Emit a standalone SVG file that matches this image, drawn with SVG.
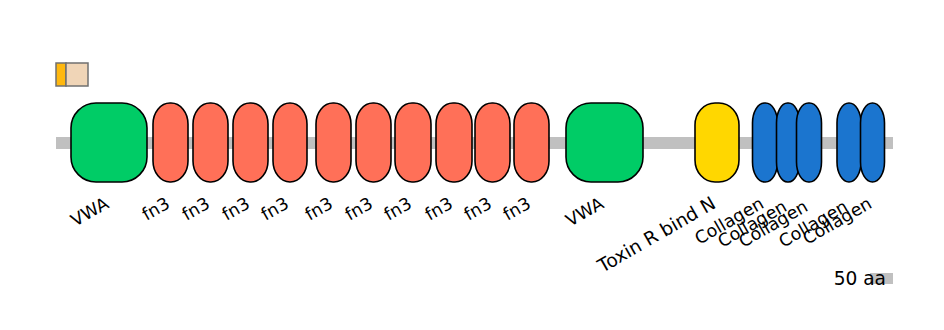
<svg xmlns="http://www.w3.org/2000/svg" width="944" height="330" viewBox="0 0 944 330">
<style>
.dom{stroke:#000;stroke-width:1.6}
.vwa{fill:#00cc66}
.fn3{fill:#ff7058}
.tox{fill:#ffd700}
.col{fill:#1b75cf}
.lbl{font-family:"DejaVu Sans",sans-serif;font-size:17.4px;fill:#000;text-anchor:end}
</style>
<rect width="944" height="330" fill="#fff"/>
<g id="legend">
<rect x="56" y="63" width="10" height="23" fill="#ffb80f" stroke="#707070" stroke-width="1.5"/>
<rect x="66" y="63" width="22" height="23" fill="#f0d5b7" stroke="#707070" stroke-width="1.5"/>
</g>
<g id="backbone">
<rect x="56" y="137" width="837" height="12" fill="#c0c0c0"/>
</g>
<g id="vwa1"><rect class="dom vwa" x="71" y="103" width="76" height="79" rx="25" ry="25"/><text class="lbl" transform="translate(110,207) rotate(-30)">VWA</text></g>
<g id="fn3_1"><rect class="dom fn3" x="153" y="103" width="35" height="79" rx="17" ry="21"/><text class="lbl" transform="translate(171,207) rotate(-30)">fn3</text></g>
<g id="fn3_2"><rect class="dom fn3" x="193" y="103" width="35" height="79" rx="17" ry="21"/><text class="lbl" transform="translate(211,207) rotate(-30)">fn3</text></g>
<g id="fn3_3"><rect class="dom fn3" x="233" y="103" width="35" height="79" rx="17" ry="21"/><text class="lbl" transform="translate(251,207) rotate(-30)">fn3</text></g>
<g id="fn3_4"><rect class="dom fn3" x="273" y="103" width="34" height="79" rx="17" ry="21"/><text class="lbl" transform="translate(290,207) rotate(-30)">fn3</text></g>
<g id="fn3_5"><rect class="dom fn3" x="316" y="103" width="35" height="79" rx="17" ry="21"/><text class="lbl" transform="translate(334,207) rotate(-30)">fn3</text></g>
<g id="fn3_6"><rect class="dom fn3" x="356" y="103" width="35" height="79" rx="17" ry="21"/><text class="lbl" transform="translate(374,207) rotate(-30)">fn3</text></g>
<g id="fn3_7"><rect class="dom fn3" x="395" y="103" width="36" height="79" rx="17" ry="21"/><text class="lbl" transform="translate(413,207) rotate(-30)">fn3</text></g>
<g id="fn3_8"><rect class="dom fn3" x="436" y="103" width="36" height="79" rx="17" ry="21"/><text class="lbl" transform="translate(454,207) rotate(-30)">fn3</text></g>
<g id="fn3_9"><rect class="dom fn3" x="475" y="103" width="35" height="79" rx="17" ry="21"/><text class="lbl" transform="translate(493,207) rotate(-30)">fn3</text></g>
<g id="fn3_10"><rect class="dom fn3" x="514" y="103" width="35" height="79" rx="17" ry="21"/><text class="lbl" transform="translate(532,207) rotate(-30)">fn3</text></g>
<g id="vwa2"><rect class="dom vwa" x="566" y="103" width="77" height="79" rx="25" ry="25"/><text class="lbl" transform="translate(605,207) rotate(-30)">VWA</text></g>
<g id="toxin"><rect class="dom tox" x="695" y="103" width="44" height="79" rx="20" ry="22"/><text class="lbl" style="font-size:18.6px" transform="translate(717,207) rotate(-30)">Toxin R bind N</text></g>
<g id="col1"><rect class="dom col" x="752.5" y="103" width="25" height="79" rx="12" ry="20"/><text class="lbl" transform="translate(765,207) rotate(-30)">Collagen</text></g>
<g id="col2"><rect class="dom col" x="776.5" y="103" width="23" height="79" rx="11" ry="20"/><text class="lbl" transform="translate(788,210) rotate(-30)">Collagen</text></g>
<g id="col3"><rect class="dom col" x="796.5" y="103" width="25" height="79" rx="12" ry="20"/><text class="lbl" transform="translate(809,210) rotate(-30)">Collagen</text></g>
<g id="col4"><rect class="dom col" x="837" y="103" width="24" height="79" rx="12" ry="20"/><text class="lbl" transform="translate(849,210) rotate(-30)">Collagen</text></g>
<g id="col5"><rect class="dom col" x="860.5" y="103" width="24" height="79" rx="12" ry="20"/><text class="lbl" transform="translate(873,207) rotate(-30)">Collagen</text></g>
<g id="scale">
<rect x="870" y="273" width="23" height="11" fill="#c0c0c0"/>
<text x="886" y="285" font-family="DejaVu Sans,sans-serif" font-size="18.6" text-anchor="end" fill="#000">50 aa</text>
</g>
</svg>
